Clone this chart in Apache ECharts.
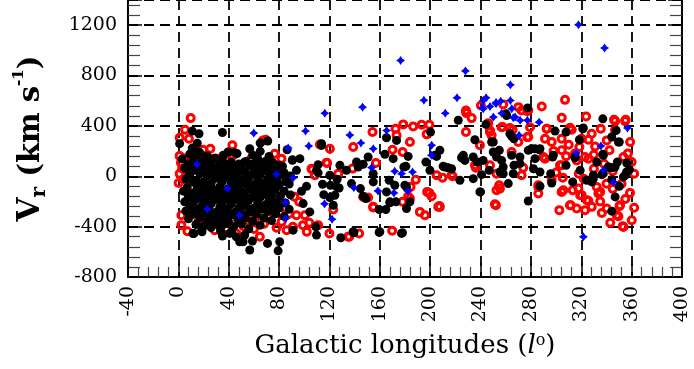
<!DOCTYPE HTML>
<html>
<head>
	<meta charset="utf-8">
	<title>Vr vs galactic longitude</title>
	<script src="https://cdn.jsdelivr.net/npm/echarts/dist/echarts.min.js"></script>
	<style>
		html, body { margin: 0; padding: 0; background: #fff; }
		#main { width: 694px; height: 369px; }
	</style>
	<script type="text/javascript">
		// axis ticks
		var xTicks = [-40, 0, 40, 80, 120, 160, 200, 240, 280, 320, 360, 400];
		var yTicks = [-800, -400, 0, 400, 800, 1200];

		// black filled circles [l, Vr]
		var blackPts = [
			[16.4,338],[11.1,359],[35,348],[1,259],[46.6,180],[39.4,193],[44.7,187],[15.6,192],[65,264],[71,280],
			[9,-295],[11.6,-455],[18.3,-434],[27.5,-362],[35,-475],[32.8,-401],[40.2,-375],[12.4,-454],[18.8,-441],
			[33.6,-436],[40.8,-454],[48.7,-520],[56.7,-586],[52.7,-467],[46,-481],[58.8,-515],[70.8,-533],[79.2,-592],
			[80.5,-520],[42.1,-441],[51.4,-520],[35.5,166],[40.8,100],[52.7,113],[56.7,219],[82.7,79],[90.6,127],
			// dense core
			[5,-203],[4,-118],[6,-22],[5,63],[3,138],[6,-276],
			[8,-338],[9,-247],[8,-163],[7,-88],[9,12],[8,97],[9,176],
			[11,-304],[12,-207],[11,-133],[12,-48],[11,41],[12,117],[11,224],
			[14,-383],[15,-268],[14,-181],[15,-97],[14,-33],[15,72],[14,158],[15,262],
			[17,-327],[18,-244],[17,-147],[18,-72],[17,22],[18,108],[17,188],
			[20,-397],[21,-288],[20,-204],[21,-118],[20,-43],[21,53],[20,127],
			[23,-352],[24,-258],[23,-173],[24,-91],[23,3],[24,78],[23,161],
			[26,-407],[27,-313],[26,-218],[27,-143],[26,-58],[27,32],[26,108],
			[29,-368],[30,-283],[29,-187],[30,-112],[29,-18],[30,63],[29,143],
			[32,-328],[33,-243],[32,-158],[33,-82],[32,12],[33,88],
			[35,-388],[36,-302],[35,-212],[36,-128],[35,-42],[36,52],[35,128],
			[38,-347],[39,-262],[38,-178],[39,-102],[38,-8],[39,82],
			[41,-312],[42,-218],[41,-142],[42,-58],[41,28],[42,112],
			[44,-398],[45,-283],[44,-188],[45,-112],[44,-22],[45,68],
			[47,-338],[48,-252],[47,-158],[48,-72],[47,22],[48,98],
			[50,-378],[51,-302],[50,-208],[51,-122],[50,-38],[51,52],
			[53,-332],[54,-238],[53,-152],[54,-62],[53,32],[54,118],
			[56,-418],[57,-282],[56,-188],[57,-102],[56,-12],[57,82],
			[59,-358],[60,-252],[59,-162],[60,-68],[59,18],[60,102],[59,168],
			[62,-302],[63,-208],[62,-122],[63,-28],[62,58],[63,142],
			[65,-388],[66,-262],[65,-168],[66,-82],[65,12],[66,88],[65,198],
			[68,-332],[69,-228],[68,-142],[69,-48],[68,42],[69,118],
			[71,-278],[72,-192],[71,-98],[72,-12],[71,72],[72,158],
			[74,-352],[75,-238],[74,-152],[75,-58],[74,22],[75,108],
			[77,-298],[78,-202],[77,-108],[78,-32],[77,52],
			[80,-252],[81,-158],[80,-72],[81,12],[80,88],
			[84,-318],[85,-212],[84,-118],[85,-42],[84,28],
			[88,-262],[89,-148],[88,-62],[89,2],
			// 85 - 210
			[86.4,211],[113.7,259],[113.7,245],[111,92],[90.6,132],[96.5,140],[109.7,47],[120.3,8],[120.8,-72],
			[126.1,-24],[127.7,-93],[124.3,-151],[123,-230],[115.5,-146],[93.8,47],[101.8,-80],[97.8,-119],
			[99.1,-217],[104.4,-283],[109.2,-401],[109.7,-467],[91.1,-428],[129,-488],[139.4,-449],[160,-441],
			[178,-449],[125.6,-84],[120.3,-169],[146.8,-158],[148.9,-177],[154.8,-45],[168,-211],[172.8,-203],
			[179.9,-71],[165.3,306],[173.3,285],[200.3,351],[164,174],[170.6,140],[182.5,158],[150.7,153],
			[146.8,95],[141.5,113],[133.5,47],[154.7,21],[137.5,-58],[144.6,-98],[167.4,-32],[171.9,-71],
			[165.3,-124],[181.2,-85],[183.9,-203],[159.5,-264],[164.8,-264],[168,-203],[181.2,-256],[196.6,113],
			[199.8,47],[180.7,79],[211.7,74],[203.7,166],[159.5,-446],[138.8,-441],[177.2,-454],[142.8,74],
			[128.3,87],[111,27],[114.5,-63],[179.1,74],[205.1,158],
			// 210 - 290
			[222.3,445],[225.5,153],[235.5,290],[248.8,272],[260.2,496],[277.4,543],[263.3,338],[266.5,298],
			[254.9,206],[256.7,126],[258,74],[255.4,34],[262,-58],[240.8,13],[239.5,-124],[237.4,113],[242.1,126],
			[224.9,147],[227.6,126],[210.3,79],[214.3,68],[217,60],[223.6,-32],[234.2,-19],[207.7,206],[246.9,47],
			[266.5,87],[271.3,100],[277.9,206],[283.2,219],[277.9,-196],[271.3,153],[244.3,412],[260.7,483],
			[264.7,317],[250.1,272],[226.3,166],[234.2,153],[250.1,193],[252.7,153],[264.7,166],[280.6,219],
			[287.2,219],[258,21],[266,21],
			// 280 - 360
			[337.1,456],[347.7,364],[349.5,272],[299.2,359],[307.9,351],[321.2,377],[318.5,290],[286.7,211],
			[283.3,140],[297.3,153],[315.1,147],[337.1,174],[356.1,105],[348.7,113],[344.2,68],[336.3,13],
			[341.6,74],[353.5,-5],[358.3,53],[307.9,87],[313.2,-45],[319.1,47],[329.6,-19],[328.3,-45],[344.2,-27],
			[346.9,-164],[344.2,-277],[287.2,-79],[296.5,-53],[282,60],[287.2,34],[295.7,21],[332.3,113],
			[321.6,383],[344.2,312],[350.2,272],[297.8,166],[315,153],[337.5,166],[341.5,74],[346.8,74],[356,34],
			[324.3,-32],[329.6,8],[337.5,21],[354.8,8],[350.2,-79],[240,-124]
		];

		// red open circles [l, Vr]
		var redPts = [
			[9.8,462],[5.3,370],[1,306],[8.4,298],[25.4,219],[19.6,211],[42.9,246],[30.2,140],[0.2,-53],
			[2.4,-309],[2.4,-388],[7.2,-436],[28.9,-428],[46.1,-454],[64.7,-480],[28.8,140],[38.1,126],
			[43.4,166],[58,140],[67.3,285],[69.4,290],[76.6,179],[74,113],[81.9,140],
			[1,20],[3,62],[2,108],[5,142],[8,88],[10,38],[12,122],[6,2],[1,162],[4,-22],
			[20,-382],[33,-348],[38,-412],[52,-398],[55,-352],[60,-418],[68,-378],[72,-332],[78,-408],[82,-362],
			[86,-428],[91,-401],[99,-388],[102,-441],[104,-370],[111,-388],[120,-454],[93.8,-309],[100.4,-309],
			[45,-302],[58,-282],[75,-268],[85,-252],[88,-298],[96,-202],[92,-162],[80,-198],[70,-232],[62,-322],
			[50,-362],[40,-372],[30,-332],[16,-358],[12,-252],[35,-262],[26,-302],
			[40,-152],[55,-48],[30,-62],[65,-118],[20,52],[48,32],
			// 100 - 220
			[112.4,253],[120.3,219],[138.9,232],[154.2,351],[172.5,378],[178.6,412],[186.5,396],[193.2,409],
			[199.3,409],[183.9,272],[197.2,333],[170.1,211],[178.1,193],[156.9,106],[138.3,61],[106.5,53],
			[118.2,106],[108.4,8],[105.7,60],[117.6,108],[127,21],[184.4,-84],[199.3,-132],[201.1,-158],[217,8],
			[173.3,325],[146.8,-164],[150.7,-169],[182.5,-158],[154.7,-243],[191.8,-283],[195.8,-309],
			[197.6,-124],[206.4,-243],[188.6,-27],[205.1,8],[209.8,-11],[134.8,-481],[143.6,-454],[169.8,-433],
			[135.7,-480],[154.8,-248],[178,-203],[183.9,-177],[207.2,-237],[123,-264],
			// 220 - 290
			[228.7,502],[228.4,351],[228.9,504],[232.9,462],[240.3,562],[246.1,422],[247.5,364],[248.8,325],
			[256.7,390],[258,570],[270,549],[272.6,522],[277.1,517],[265.5,369],[270,272],[277.1,311],[279.3,390],
			[264.7,192],[255.4,-98],[252.2,-230],[236.3,68],[217.8,0],[247.5,87],[273.9,68],[285.9,-85],
			[207.7,-243],[288.6,554],[277.9,523],[228.4,523],[247.5,351],[257.5,391],[263.3,383],[277.9,312],
			[239.5,246],[289.9,153],[235.5,87],[252.7,21],[254.8,-71],[272.6,8],[285.9,-71],[296.5,-32],
			[252.7,-111],[251.4,-222],[285.9,-137],
			// 290 - 362
			[307.1,607],[304.5,464],[323.8,475],[346.9,438],[354.8,438],[358.8,272],[292.6,377],[312.4,369],
			[328.3,338],[335.5,377],[325.7,290],[331,237],[291.2,298],[296.5,272],[304.5,206],[291.2,140],
			[316.4,126],[325.7,140],[342.4,206],[353.5,153],[304.5,87],[305.3,-11],[313.2,-111],[319.1,-151],
			[335,-124],[324.4,-190],[311.6,-230],[316.4,-256],[328.3,-243],[302.6,-269],[336.3,-291],[350.3,-238],
			[349.5,-317],[360.1,-349],[353.5,-402],[305.8,-111],[346,449],[355.3,449],[292.5,378],[304.4,298],
			[311,386],[320.3,298],[340.2,285],[346.8,365],[303.1,87],[323,153],[318.5,232],[360,114],
			[304.4,-124],[317.7,-98],[332.3,-85],[311,-230],[323,-269],[325.6,-195],[320.3,-150],[333.6,-137],
			[340.2,-256],[348.1,-309],[350.8,-230],[352.9,-396],[358.7,-132],
			[310,250],[315,180],[330,170],[338,100],[345,40],[352,-60],[357,180],[362,20],[300,30],[330,60],
			[318,20],[340,-60],[355,-180],[345,-100],[322,-20],[308,160],[298,200],[335,-200],[362,-250],[343,-370]
		];

		// blue stars [l, Vr]
		var bluePts = [
			[317.8,1204],[338.5,1019],[176.5,919],[228,837],[263.7,726],[195,604],[221.3,623],[244.4,623],
			[242.2,602],[146.3,549],[252.3,586],[256,596],[263.7,602],[247.5,554],[241.4,544],[59.9,343],
			[101,359],[103.6,240],[116.3,501],[136.2,327],[145,264],[165.4,364],[154.8,219],[171.8,40],
			[177.3,21],[186,34],[158.5,-116],[171.2,-132],[182.3,-116],[201,166],[212,501],[242.2,536],
			[252.3,576],[250.2,470],[256.8,501],[264.8,536],[267.4,470],[271.4,444],[277.2,444],[286.5,430],
			[270.6,325],[266,465],[356.7,383],[335.6,240],[316,185],[337.6,48],[345.6,-45],[321.7,-481],
			[14.8,95],[23,-261],[39,-97],[48.7,-309],[77.9,16],[91.1,-13],[85.1,-208],[85.3,-335],[116.1,-219],
			[122.1,-341],[87.2,224],[139.4,-90],[153.5,69],[201.2,246]
		];

		var fontFamily = 'DejaVu Serif';

		window.onload = function() {
			var myChart = echarts.init(document.getElementById('main'), null, {renderer: 'canvas'});

			var yAxisBase = {
				type: 'value',
				min: -800,
				max: 1400,
				interval: 400,
				axisLine: {show: true, onZero: false, lineStyle: {color: '#000', width: 2}},
				axisTick: {show: true, inside: true, length: 14, lineStyle: {color: '#000', width: 1.5}},
				minorTick: {show: true, splitNumber: 5, length: 12, lineStyle: {color: '#444', width: 1.2}},
				splitLine: {show: false}
			};

			var option = {
				animation: false,
				backgroundColor: '#fff',
				// fixed pixel box so the plot sits where the picture has it
				grid: {left: 128, width: 554, top: -1, height: 278},
				xAxis: {
					type: 'value',
					min: xTicks[0],
					max: xTicks[xTicks.length - 1],
					interval: 40,
					axisLine: {show: true, onZero: false, lineStyle: {color: '#000', width: 2}},
					axisTick: {show: true, inside: true, length: 14, lineStyle: {color: '#000', width: 1.5}},
					minorTick: {show: true, splitNumber: 5, length: 10, lineStyle: {color: '#444', width: 1.2}},
					splitLine: {show: true, lineStyle: {color: '#000', width: 1.8, type: [10, 6]}},
					axisLabel: {
						rotate: 90, margin: 9, color: '#000', fontFamily: fontFamily, fontSize: 19,
						formatter: function(v) { return String(v); }
					},
					name: '{t|Galactic longitudes (}{i|l}{s|o}{t|)}',
					nameLocation: 'middle',
					nameGap: 56,
					nameTextStyle: {
						rich: {
							t: {fontFamily: fontFamily, fontSize: 26, color: '#000'},
							i: {fontFamily: fontFamily, fontSize: 26, fontStyle: 'italic', color: '#000'},
							s: {fontFamily: fontFamily, fontSize: 16, color: '#000', verticalAlign: 'top', lineHeight: 18}
						}
					}
				},
				yAxis: [
					Object.assign({}, yAxisBase, {
						position: 'left',
						splitLine: {show: true, lineStyle: {color: '#000', width: 1.8, type: [10, 6]}},
						axisLabel: {margin: 11, color: '#000', fontFamily: fontFamily, fontSize: 19,
							formatter: function(v) { return yTicks.indexOf(v) >= 0 ? String(v) : ''; }},
						name: '{v|V}{b|r}{t| (km s}{p|-1}{t|)}',
						nameLocation: 'middle',
						nameRotate: 90,
						nameGap: 78,
						nameTextStyle: {
							rich: {
								v: {fontFamily: fontFamily, fontSize: 31, fontWeight: 'bold', color: '#000', lineHeight: 38},
								b: {fontFamily: fontFamily, fontSize: 20, fontWeight: 'bold', color: '#000', verticalAlign: 'bottom', lineHeight: 33},
								t: {fontFamily: fontFamily, fontSize: 29, fontWeight: 'bold', color: '#000', lineHeight: 38},
								p: {fontFamily: fontFamily, fontSize: 15, fontWeight: 'bold', color: '#000', verticalAlign: 'top', lineHeight: 38}
							}
						}
					}),
					Object.assign({}, yAxisBase, {
						position: 'right',
						axisLabel: {show: false}
					})
				],
				series: [
					{
						name: 'red',
						type: 'scatter',
						data: redPts,
						symbol: 'circle',
						symbolSize: 7,
						itemStyle: {color: 'rgba(255,255,255,0)', borderColor: '#ff0000', borderWidth: 3, opacity: 1},
						z: 2
					},
					{
						name: 'black',
						type: 'scatter',
						data: blackPts,
						symbol: 'circle',
						symbolSize: 9,
						itemStyle: {color: '#000', opacity: 1},
						z: 3
					},
					{
						name: 'blue',
						type: 'scatter',
						data: bluePts,
						symbol: 'path://M0,-10 L4,-4 L10,0 L4,4 L0,10 L-4,4 L-10,0 L-4,-4 Z',
						symbolSize: 9,
						itemStyle: {color: '#0000ff', opacity: 1},
						z: 4
					}
				]
			};
			myChart.setOption(option);
		};
	</script>
</head>
<body>
	<div id="main"></div>
</body>
</html>
